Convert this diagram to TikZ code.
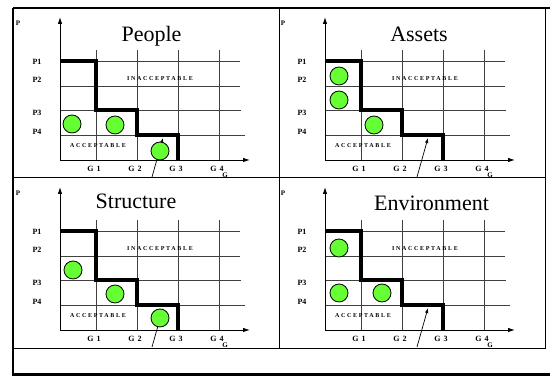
\documentclass[tikz,border=0pt]{standalone}
\usepackage{fontspec}
\setmainfont{Liberation Serif}
\usetikzlibrary{arrows.meta}
\definecolor{riskgreen}{HTML}{66FF33}
\tikzset{
  gridline/.style={black!75,line width=0.9pt},
  limitline/.style={line width=4.5pt},
  riskdot/.style={fill=riskgreen,draw=black,line width=0.8pt},
  axlabel/.style={font=\fontsize{8}{9}\selectfont\bfseries,inner sep=0pt},
  glabel/.style={font=\fontsize{8}{9}\selectfont\bfseries\addfontfeature{LetterSpace=40},inner sep=0pt},
  zonelabel/.style={font=\fontsize{6}{7}\selectfont\bfseries\addfontfeature{LetterSpace=28},inner sep=0pt},
  paneltitle/.style={font=\fontsize{22}{24}\selectfont,anchor=base,inner sep=0pt},
}

\begin{document}
\begin{tikzpicture}[x=1pt,y=1pt,>={Latex[length=7pt,width=4.5pt]}]
    \useasboundingbox (0,0) rectangle (550,379);
    % the same risk matrix in each quarter
    \foreach \ox/\oy/\k in {60/219/a,325/219/b,60/49/c,325/49/d} {
      \begin{scope}[shift={(\ox,\oy)}]
        \foreach \gx in {36,77,118,159} {\draw[gridline] (\gx,0) -- (\gx,110);}
        \foreach \gy/\len in {99/180,74/180,50/181,25/185} {\draw[gridline] (0,\gy) -- (\len,\gy);}
        \draw[->,line width=0.9pt] (0,0) -- (190,0);
        \draw[->,line width=0.9pt] (0,0) -- (0,143);
        \foreach \lab/\ly in {P1/98,P2/80,P3/47,P4/28} {
          \node[axlabel] (\lab\k) at (-23,\ly) {\lab};
        }
        \foreach \lab/\lx in {G1/34,G2/75,G3/116,G4/157} {
          \node[glabel] (\lab\k) at (\lx,-9) {\lab};
        }
        \node[axlabel,font=\fontsize{7}{8}\selectfont\bfseries] (pax\k) at (-42,137) {P};
        \node[axlabel,font=\fontsize{7}{8}\selectfont\bfseries] (gax\k) at (165,-15) {G};
        \node[zonelabel] (inacc\k) at (100,81) {INACCEPTABLE};
        \node[zonelabel] (acc\k) at (38,14) {ACCEPTABLE};
        \draw[limitline] (0,99) -- (36,99) -- (36,50) -- (77,50) -- (77,25) -- (118,25) -- (118,0);
        \coordinate (ptail\k) at (92,-17);
        \coordinate (phead\k) at (103,22);
        \draw[-{Latex[length=5pt,width=3.5pt]},line width=0.7pt] (ptail\k) -- (phead\k);
      \end{scope}
    }
    % titles and points
    \node[paneltitle] (people) at (151.5,337) {People};
    \node[paneltitle] (assets) at (419,337) {Assets};
    \node[paneltitle] (structure) at (136,170.5) {Structure};
    \node[paneltitle] (environment) at (431.5,168.5) {Environment};
    \draw[riskdot] (72,255) circle (9);
    \draw[riskdot] (115,254) circle (9);
    \draw[riskdot] (160,228) circle (9);
    \draw[riskdot] (339,303) circle (9);
    \draw[riskdot] (339,279) circle (9);
    \draw[riskdot] (374,254) circle (9);
    \draw[riskdot] (73,109) circle (9);
    \draw[riskdot] (115,85) circle (9);
    \draw[riskdot] (160,61) circle (9);
    \draw[riskdot] (339,131) circle (9);
    \draw[riskdot] (339,86) circle (9);
    \draw[riskdot] (382,86) circle (9);
    % frame
    \draw[line width=2pt] (13,371) -- (550,371);
    \draw[line width=3pt] (13,4) -- (550,4);
    \draw[line width=1.3pt] (13,371) -- (13,3);
    \draw[line width=1pt] (545,371) -- (545,30);
    \draw[line width=1pt] (13,201) -- (545,201);
    \draw[line width=1pt] (13,30) -- (545,30);
    \draw[line width=1pt] (279,371) -- (279,30);
\end{tikzpicture}
\end{document}
